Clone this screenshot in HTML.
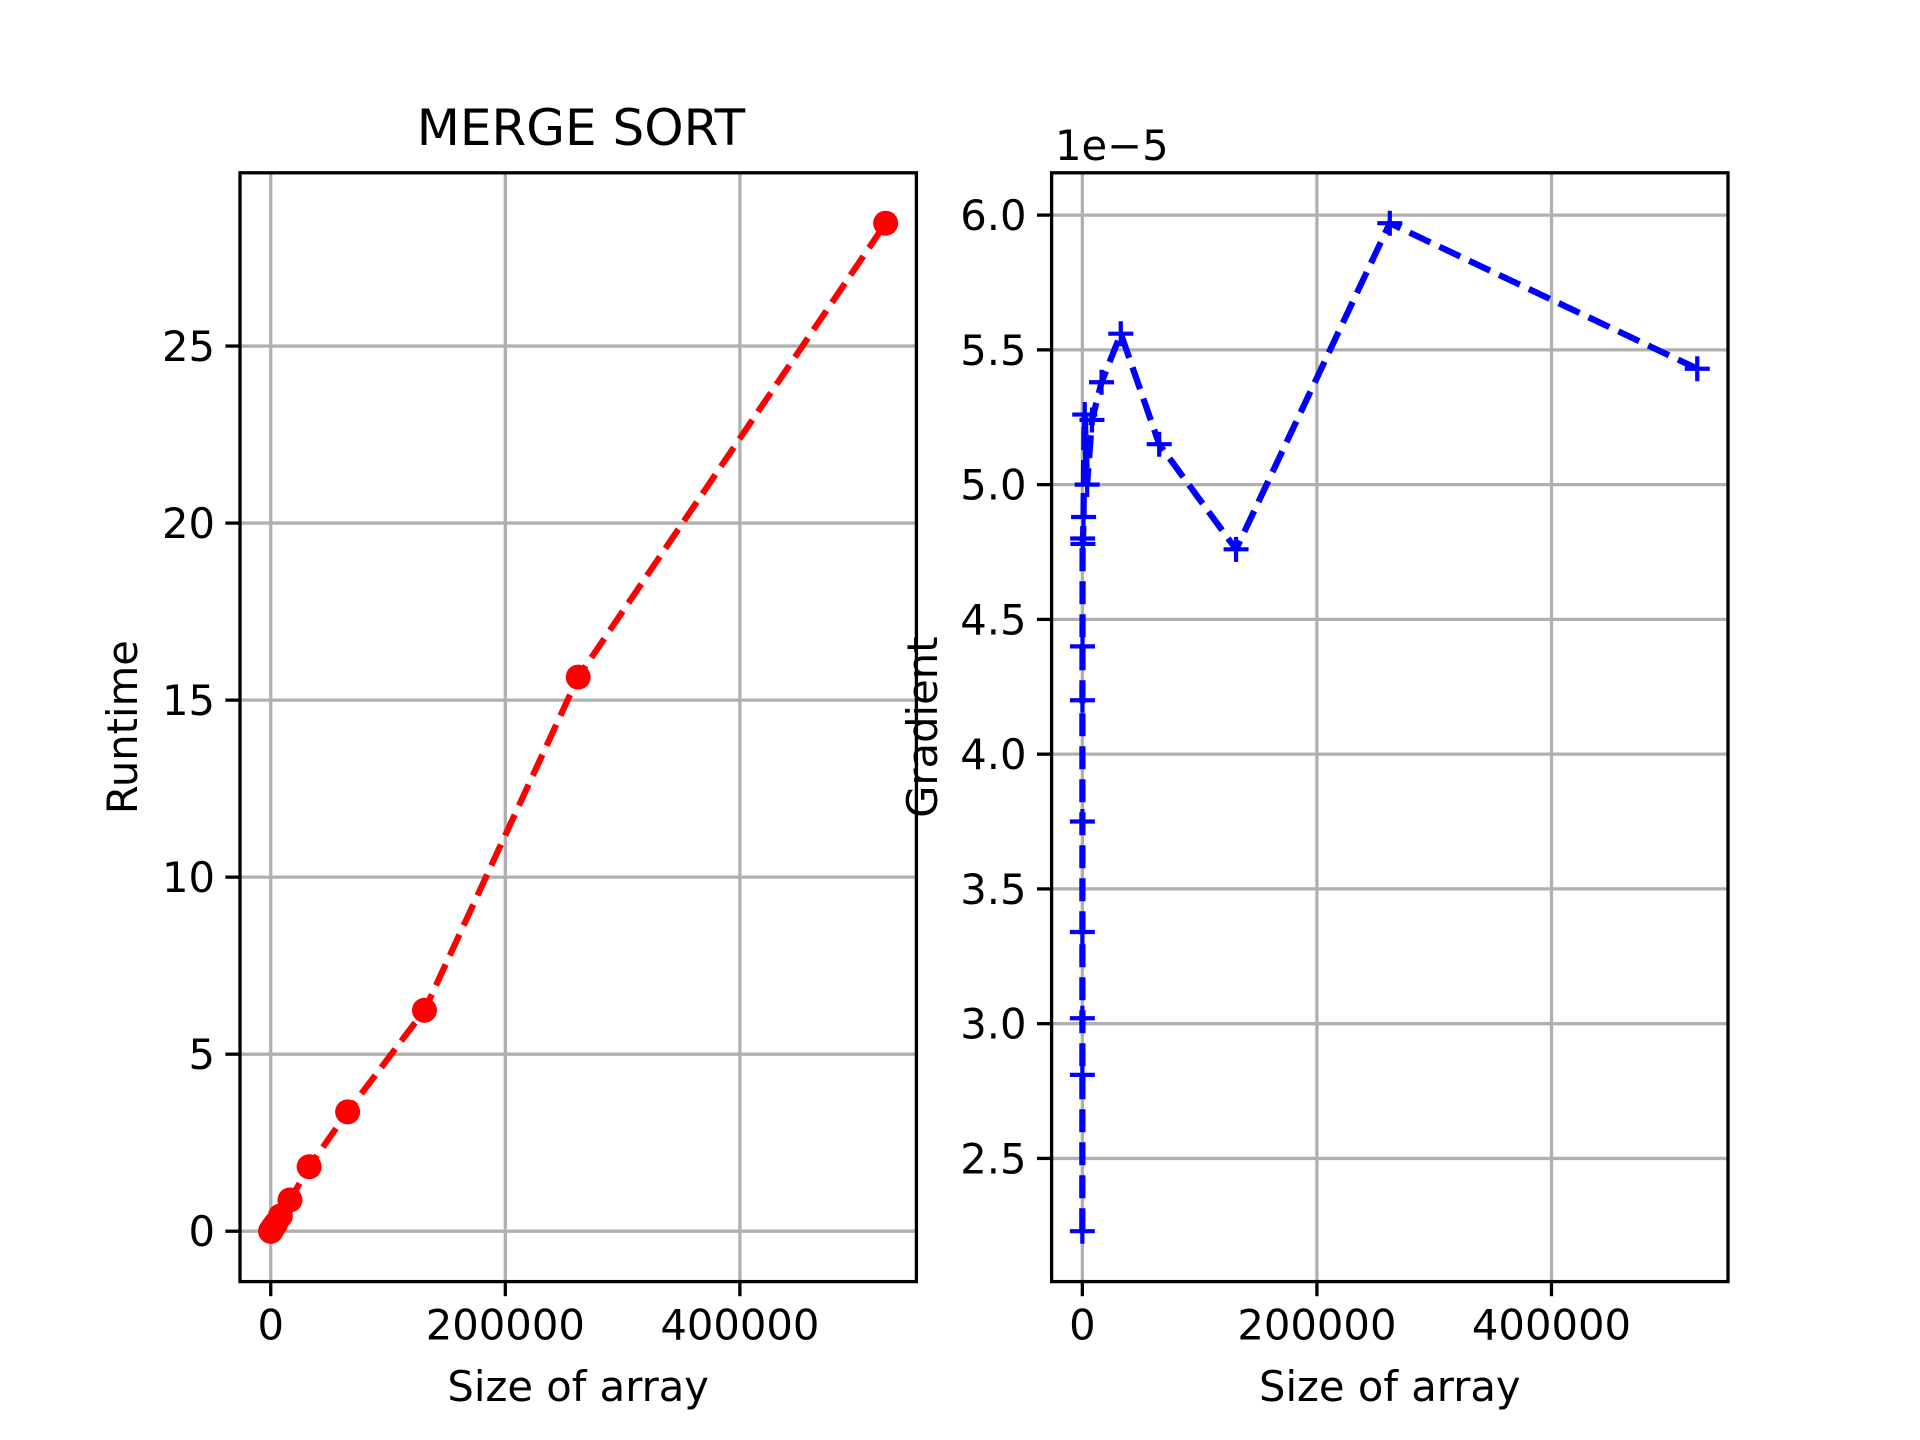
<!DOCTYPE html>
<html><head><meta charset="utf-8"><style>
html,body{margin:0;padding:0;background:#fff}
svg{display:block}
text{font-family:"DejaVu Sans","Liberation Sans",sans-serif;fill:#000}
</style></head><body>
<svg id="chart" width="1920" height="1440" xmlns="http://www.w3.org/2000/svg">
<rect width="1920" height="1440" fill="#fff"/>
<g id="left"></g>
<g id="right"></g>
<text x="581" y="145" font-size="50" text-anchor="middle">MERGE SORT</text>
<text x="1055" y="160" font-size="41.7">1e−5</text>
</svg>
<script>
const sizes=[2,4,8,16,32,64,128,256,512,1024,2048,4096,8192,16384,32768,65536,131072,262144,524288];
const gradients=[2.23,2.81,3.02,3.34,3.75,4.20,4.40,4.80,4.78,4.88,5.26,5.00,5.24,5.38,5.56,5.15,4.76,5.97,5.43];
const runtimes=[0.0000446,0.000112,0.000242,0.000534,0.0012,0.00269,0.00563,0.0123,0.0245,0.05,0.108,0.205,0.429,0.882,1.82,3.37,6.24,15.65,28.47];
const xTicks=[0,200000,400000];
const xTickLabels=["0","200000","400000"];
const leftYTicks=[0,5,10,15,20,25];
const rightYTicks=[2.5,3.0,3.5,4.0,4.5,5.0,5.5,6.0];
const rightYTickLabels=["2.5","3.0","3.5","4.0","4.5","5.0","5.5","6.0"];

const NS="http://www.w3.org/2000/svg";
function mk(parent,tag,attrs){const e=document.createElementNS(NS,tag);for(const k in attrs)e.setAttribute(k,attrs[k]);parent.appendChild(e);return e;}
const T=172.8,B=1281.6;
function lim(arr){const mn=Math.min(...arr),mx=Math.max(...arr),m=(mx-mn)*0.05;return [mn-m,mx+m];}
function panel(g,L,R,ymin,ymax,yt,ytl,ys,color,marker,ylabel,ylx){
  const [xmin,xmax]=lim(sizes.concat([0]));
  const sx=v=>L+(v-xmin)/(xmax-xmin)*(R-L);
  const sy=v=>B-(v-ymin)/(ymax-ymin)*(B-T);
  xTicks.forEach((t,i)=>{
    const l=mk(g,'line',{x1:sx(t),x2:sx(t),y1:T,y2:B,stroke:'#b0b0b0','stroke-width':3.3});
    
    
    mk(g,'line',{x1:sx(t),x2:sx(t),y1:B,y2:B+14.6,stroke:'#000','stroke-width':3.3});
    const tx=mk(g,'text',{x:sx(t),y:B+58,'font-size':41.7,'text-anchor':'middle'});
    tx.textContent=xTickLabels[i];
    
    
  });
  yt.forEach((t,i)=>{
    const l=mk(g,'line',{x1:L,x2:R,y1:sy(t),y2:sy(t),stroke:'#b0b0b0','stroke-width':3.3});
    
    
    mk(g,'line',{x1:L-14.6,x2:L,y1:sy(t),y2:sy(t),stroke:'#000','stroke-width':3.3});
    const tx=mk(g,'text',{x:L-25,y:sy(t)+15,'font-size':41.7,'text-anchor':'end'});
    tx.textContent=ytl[i];
    
    
  });
  const pts=sizes.map((s,i)=>sx(s).toFixed(1)+','+sy(ys[i]).toFixed(1)).join(' ');
  const pl=mk(g,'polyline',{points:pts,fill:'none',stroke:color,'stroke-width':6.25,'stroke-dasharray':'23 10'});
  
  
  sizes.forEach((s,i)=>{
    const x=sx(s),y=sy(ys[i]);
    let m;
    if(marker==='o'){m=mk(g,'circle',{cx:x,cy:y,r:12.5,fill:color});}
    else{m=mk(g,'path',{d:`M${x-12.5},${y}H${x+12.5}M${x},${y-12.5}V${y+12.5}`,stroke:color,'stroke-width':4.2,fill:'none'});}
    
    
  });
  const fr=mk(g,'rect',{x:L,y:T,width:R-L,height:B-T,fill:'none',stroke:'#000','stroke-width':3.3});
  
  
  const xl=mk(g,'text',{x:(L+R)/2,y:1401,'font-size':41.7,'text-anchor':'middle'});
  xl.textContent='Size of array';
  
  
  const yl=mk(g,'text',{x:0,y:0,'font-size':41.7,'text-anchor':'middle',transform:`translate(${ylx},${(T+B)/2}) rotate(-90)`});
  yl.textContent=ylabel;
  
  
}
const ll=lim(runtimes), rl=lim(gradients);
panel(document.getElementById('left'),240,916.4,ll[0],ll[1],leftYTicks,leftYTicks.map(String),runtimes,'#ff0000','o','Runtime',137);
panel(document.getElementById('right'),1051.6,1728,rl[0],rl[1],rightYTicks,rightYTickLabels,gradients,'#0000ff','+','Gradient',937);
</script>
</body></html>
